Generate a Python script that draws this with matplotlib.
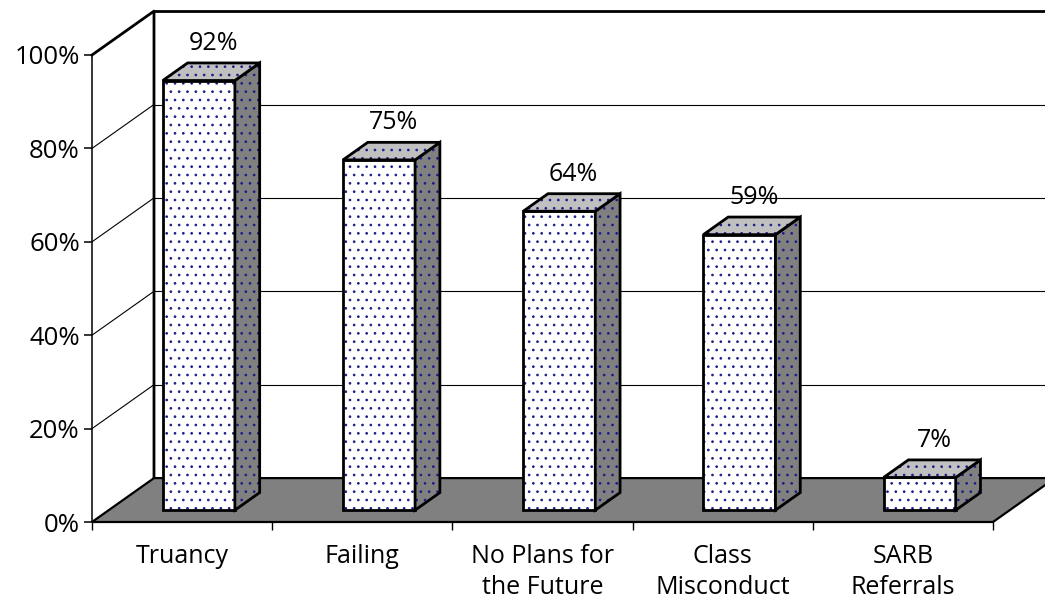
import matplotlib
matplotlib.use("Agg")
import matplotlib.pyplot as plt
from matplotlib.patches import Polygon

categories = ["Truancy", "Failing", "No Plans for\nthe Future", "Class\nMisconduct", "SARB\nReferrals"]
values = [0.92, 0.75, 0.64, 0.59, 0.07]
labels = ["92%", "75%", "64%", "59%", "7%"]
yticks = [0.0, 0.2, 0.4, 0.6, 0.8, 1.0]
yticklabels = ["0%", "20%", "40%", "60%", "80%", "100%"]

plt.rcParams['font.family'] = ['Open Sans', 'DejaVu Sans']
plt.rcParams['hatch.linewidth'] = 0.7

# oblique depth vector in data units (categories, fraction)
DX = 0.344
DY = 0.094
D0 = 0.27      # depth where bar front face sits
DEPTH = 0.4    # bar depth
WIDTH = 0.4
DOT = '#1c1c8a'

fig = plt.figure(figsize=(10.45, 6.05), dpi=100)
ax = fig.add_axes([92 / 1045, 83 / 605, 901 / 1045, 467 / 605])
ax.set_xlim(0, 5)
ax.set_ylim(0, 1)
n = len(categories)


def poly(pts, fc, hatch=None, lw=2.0, z=1):
    if hatch:
        ax.add_patch(Polygon(pts, closed=True, facecolor=fc, edgecolor=DOT,
                             hatch=hatch, linewidth=0, clip_on=False, zorder=z))
        ax.add_patch(Polygon(pts, closed=True, fill=False, edgecolor='black',
                             linewidth=lw, clip_on=False, zorder=z))
    else:
        ax.add_patch(Polygon(pts, closed=True, facecolor=fc, edgecolor='black',
                             linewidth=lw, clip_on=False, zorder=z))


# walls
poly([(0, 0), (0, 1), (DX, 1 + DY), (DX, DY)], 'white', lw=0, z=0.5)
poly([(DX, DY), (DX, 1 + DY), (n + DX, 1 + DY), (n + DX, DY)], 'white', lw=0, z=0.5)

for t in yticks[1:-1]:
    ax.plot([0, DX], [t, t + DY], color='black', lw=0.8, clip_on=False, zorder=0.6)
    ax.plot([DX, n + DX], [t + DY, t + DY], color='black', lw=0.8, clip_on=False, zorder=0.6)

ax.plot([0, DX, DX], [1, 1 + DY, DY], color='black', lw=2.0, clip_on=False, zorder=0.7)
ax.plot([DX, n + DX], [1 + DY, 1 + DY], color='black', lw=2.0, clip_on=False, zorder=0.7)

# floor
poly([(0, 0), (n, 0), (n + DX, DY), (DX, DY)], '#808080', lw=1.6, z=0.8)

# bars
for i, v in enumerate(values):
    xl = i + 0.5 - WIDTH / 2 + D0 * DX
    xr = xl + WIDTH
    yb = D0 * DY
    ddx = DEPTH * DX
    ddy = DEPTH * DY
    poly([(xl, yb), (xr, yb), (xr, yb + v), (xl, yb + v)], 'white', hatch='..', z=2)
    poly([(xr, yb), (xr + ddx, yb + ddy), (xr + ddx, yb + ddy + v), (xr, yb + v)],
         '#808080', hatch='..', z=2)
    poly([(xl, yb + v), (xr, yb + v), (xr + ddx, yb + ddy + v), (xl + ddx, yb + ddy + v)],
         '#c0c0c0', hatch='..', z=2)
    ax.text((xl + xr) / 2 + 0.08, yb + v + ddy + 0.042, labels[i], ha='center',
            va='center', fontsize=18, clip_on=False, zorder=3)

# axes styling
for s in ['top', 'right', 'bottom']:
    ax.spines[s].set_visible(False)
ax.spines['left'].set_linewidth(1.1)
ax.spines['left'].set_zorder(0.9)
ax.set_yticks(yticks)
ax.set_yticklabels(yticklabels, fontsize=18.5)
ax.tick_params(axis='y', direction='out', length=5.8, width=1.1, pad=3)

ax.set_xticks([i + 0.5 for i in range(n)])
ax.set_xticklabels(categories, fontsize=18, linespacing=1.3)
ax.set_xticks(list(range(n + 1)), minor=True)
ax.tick_params(axis='x', which='major', length=0, pad=16)
ax.tick_params(axis='x', which='minor', direction='out', length=5.8, width=1.0)
ax.patch.set_visible(False)

fig.savefig("out.png", dpi=100, facecolor='white')
